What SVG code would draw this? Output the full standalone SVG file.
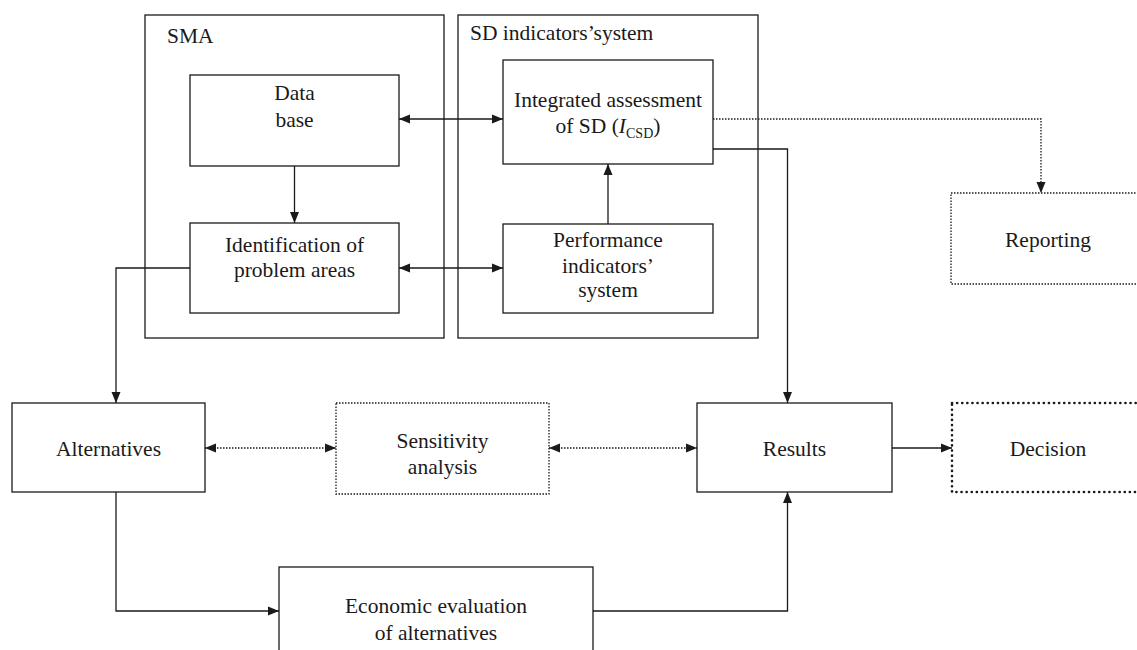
<svg xmlns="http://www.w3.org/2000/svg" width="1137" height="650" viewBox="0 0 1137 650">
<style>
  text { font-family: 'Liberation Serif', 'DejaVu Serif', serif; font-size: 21.5px; fill: #1a1a1a; }
  .c { text-anchor: middle; }
  .box { fill: none; stroke: #1a1a1a; stroke-width: 1.3; }
  .dot { fill: none; stroke: #1a1a1a; stroke-width: 1.3; stroke-dasharray: 1.5 1.5; }
  .bigdot { fill: none; stroke: #1a1a1a; stroke-width: 2.6; stroke-dasharray: 0.1 5; stroke-linecap: round; }
  .ln { fill: none; stroke: #1a1a1a; stroke-width: 1.3; }
  .dl { fill: none; stroke: #1a1a1a; stroke-width: 1.3; stroke-dasharray: 1.5 1.5; }
</style>
<defs>
  <marker id="ah" markerUnits="userSpaceOnUse" markerWidth="12" markerHeight="10" refX="11" refY="5" orient="auto-start-reverse">
    <path d="M0,0.5 L11,5 L0,9.5 Z" fill="#1a1a1a"/>
  </marker>
</defs>

<g id="sma">
  <rect class="box" x="145" y="15" width="299" height="323"/>
  <text x="167" y="43">SMA</text>
</g>
<g id="sd-system">
  <rect class="box" x="458" y="15" width="300" height="323"/>
  <text x="470" y="40">SD indicators’system</text>
</g>
<g id="database">
  <rect class="box" x="190" y="75" width="209" height="91"/>
  <text class="c" x="294.5" y="100">Data</text>
  <text class="c" x="294.5" y="127">base</text>
</g>
<g id="identification">
  <rect class="box" x="190" y="223" width="209" height="90"/>
  <text class="c" x="294.5" y="252">Identification of</text>
  <text class="c" x="294.5" y="277">problem areas</text>
</g>
<g id="integrated">
  <rect class="box" x="503" y="60" width="210" height="104"/>
  <text class="c" x="608" y="107">Integrated assessment</text>
  <text class="c" x="608" y="133">of SD (<tspan font-style="italic">I</tspan><tspan font-size="14" dy="5">CSD</tspan><tspan dy="-5">)</tspan></text>
</g>
<g id="performance">
  <rect class="box" x="503" y="224" width="210" height="89"/>
  <text class="c" x="608" y="247">Performance</text>
  <text class="c" x="608" y="273">indicators’</text>
  <text class="c" x="608" y="297">system</text>
</g>
<g id="reporting">
  <rect class="dot" x="951" y="193" width="200" height="91"/>
  <text class="c" x="1048" y="247">Reporting</text>
</g>
<g id="alternatives">
  <rect class="box" x="12" y="403" width="193" height="89"/>
  <text class="c" x="108.5" y="456">Alternatives</text>
</g>
<g id="sensitivity">
  <rect class="dot" x="336" y="403" width="213" height="91"/>
  <text class="c" x="442.5" y="448">Sensitivity</text>
  <text class="c" x="442.5" y="474">analysis</text>
</g>
<g id="results">
  <rect class="box" x="697" y="403" width="195" height="89"/>
  <text class="c" x="794.5" y="456">Results</text>
</g>
<g id="decision">
  <rect class="bigdot" x="952" y="403" width="200" height="89"/>
  <text class="c" x="1048" y="456">Decision</text>
</g>
<g id="economic">
  <rect class="box" x="279" y="567" width="314" height="100"/>
  <text class="c" x="436" y="613">Economic evaluation</text>
  <text class="c" x="436" y="640">of alternatives</text>
</g>

<g id="connectors">
  <path class="ln" d="M294.5,166 V223" marker-end="url(#ah)"/>
  <path class="ln" d="M399,119 H503" marker-start="url(#ah)" marker-end="url(#ah)"/>
  <path class="ln" d="M399,268 H503" marker-start="url(#ah)" marker-end="url(#ah)"/>
  <path class="ln" d="M608,224 V164" marker-end="url(#ah)"/>
  <path class="dl" d="M713,119 H1041 V193" marker-end="url(#ah)"/>
  <path class="ln" d="M713,149 H787.5 V403" marker-end="url(#ah)"/>
  <path class="ln" d="M190,268 H116 V403" marker-end="url(#ah)"/>
  <path class="dl" d="M205,448 H336" marker-start="url(#ah)" marker-end="url(#ah)"/>
  <path class="dl" d="M549,448 H697" marker-start="url(#ah)" marker-end="url(#ah)"/>
  <path class="ln" d="M892,448 H952" marker-end="url(#ah)"/>
  <path class="ln" d="M116,492 V611 H279" marker-end="url(#ah)"/>
  <path class="ln" d="M593,611 H787.5 V492" marker-end="url(#ah)"/>
</g>
</svg>
